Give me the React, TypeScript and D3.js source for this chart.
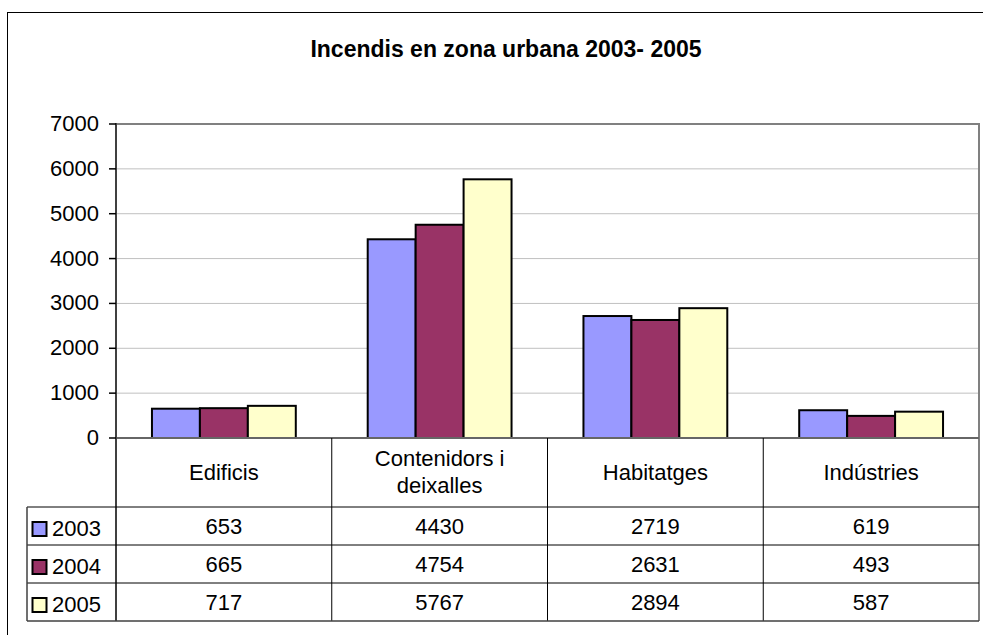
import React from "react";
import * as d3 from "d3";

const title = "Incendis en zona urbana 2003- 2005";
const categories = ["Edificis", "Contenidors i deixalles", "Habitatges", "Indústries"];
const categoryLines = [["Edificis"], ["Contenidors i", "deixalles"], ["Habitatges"], ["Indústries"]];
const seriesNames = ["2003", "2004", "2005"];
const values2003 = [653, 4430, 2719, 619];
const values2004 = [665, 4754, 2631, 493];
const values2005 = [717, 5767, 2894, 587];
const seriesValues = [values2003, values2004, values2005];
const seriesColors = ["#9999FF", "#993366", "#FFFFCC"];
const yTicks = [0, 1000, 2000, 3000, 4000, 5000, 6000, 7000];

const FONT = "'Liberation Sans', Arial, sans-serif";

export default function App() {
  const W = 983, H = 635;
  const plotL = 116, plotR = 979, plotT = 124, plotB = 438;
  const headerB = 507;
  const rowH = 38;
  const legendL = 27;

  const x = d3.scaleBand<string>().domain(categories).range([plotL, plotR]).paddingInner(0).paddingOuter(0);
  const xs = d3.scaleBand<string>().domain(seriesNames).range([0, x.bandwidth()]).paddingInner(0).paddingOuter(0.75);
  const y = d3.scaleLinear().domain([0, 7000]).range([plotB, plotT]);

  const tableBottom = headerB + rowH * seriesNames.length;
  const dividers = categories.map((c) => x(c)!).concat([plotR]);

  return (
    <svg width={W} height={H} style={{ position: "absolute", left: 0, top: 0, background: "#fff" }} fontFamily={FONT}>
      <rect x={0} y={0} width={W} height={H} fill="#fff" />
      {/* outer chart border */}
      <rect x={7.5} y={12.5} width={1100} height={700} fill="none" stroke="#000" strokeWidth={1} />
      <text x={506} y={57} textAnchor="middle" fontSize={23} fontWeight="bold" fill="#000">{title}</text>

      {/* gridlines */}
      {yTicks.filter((t) => t > 0 && t < 7000).map((t) => (
        <line key={t} x1={plotL} x2={plotR} y1={y(t)} y2={y(t)} stroke="#c0c0c0" strokeWidth={1} />
      ))}
      {/* plot area border top & right */}
      <line x1={plotL} x2={plotR} y1={plotT} y2={plotT} stroke="#808080" strokeWidth={2} />
      <line x1={plotR} x2={plotR} y1={plotT - 1} y2={tableBottom} stroke="#808080" strokeWidth={2} />

      {/* bars */}
      {seriesNames.map((s, si) =>
        categories.map((c, ci) => {
          const v = seriesValues[si][ci];
          const bx = x(c)! + xs(s)!;
          return (
            <rect key={s + c} x={bx} y={y(v)} width={xs.bandwidth()} height={y(0) - y(v)}
              fill={seriesColors[si]} stroke="#000" strokeWidth={2} />
          );
        })
      )}

      {/* zero line */}
      <line x1={plotL} x2={plotR} y1={plotB} y2={plotB} stroke="#666" strokeWidth={2} />
      {/* y axis */}
      <line x1={plotL} x2={plotL} y1={plotT - 1} y2={tableBottom} stroke="#404040" strokeWidth={2} />
      {yTicks.map((t) => (
        <g key={t}>
          <line x1={109} x2={plotL} y1={y(t)} y2={y(t)} stroke="#000" strokeWidth={1.5} />
          <text x={99} y={y(t) + 7} textAnchor="end" fontSize={22} fill="#000">{t}</text>
        </g>
      ))}

      {/* data table */}
      {dividers.slice(1, -1).map((dx, i) => (
        <line key={i} x1={dx} x2={dx} y1={plotB} y2={tableBottom} stroke="#000" strokeWidth={1} />
      ))}
      {seriesNames.map((s, i) => (
        <line key={s} x1={legendL} x2={plotR} y1={headerB + rowH * i} y2={headerB + rowH * i} stroke="#000" strokeWidth={1} />
      ))}
      <line x1={legendL} x2={plotR} y1={tableBottom} y2={tableBottom} stroke="#404040" strokeWidth={1.5} />
      <line x1={legendL} x2={legendL} y1={headerB} y2={tableBottom} stroke="#404040" strokeWidth={1.5} />

      {categories.map((c, ci) => {
        const cx = x(c)! + x.bandwidth() / 2;
        const lines = categoryLines[ci];
        const mid = (plotB + headerB) / 2;
        const lh = 27;
        return (
          <g key={c}>
            {lines.map((ln, li) => (
              <text key={li} x={cx} y={mid + 7 + (li - (lines.length - 1) / 2) * lh} textAnchor="middle" fontSize={22} fill="#000">{ln}</text>
            ))}
          </g>
        );
      })}

      {seriesNames.map((s, si) => {
        const cy = headerB + rowH * si + rowH / 2;
        return (
          <g key={s}>
            <rect x={32.5} y={cy - 4} width={14} height={14} fill={seriesColors[si]} stroke="#000" strokeWidth={2} />
            <text x={52} y={cy + 10} fontSize={22} fill="#000">{s}</text>
            {categories.map((c, ci) => (
              <text key={c} x={x(c)! + x.bandwidth() / 2} y={cy + 8} textAnchor="middle" fontSize={22} fill="#000">
                {seriesValues[si][ci]}
              </text>
            ))}
          </g>
        );
      })}
    </svg>
  );
}
